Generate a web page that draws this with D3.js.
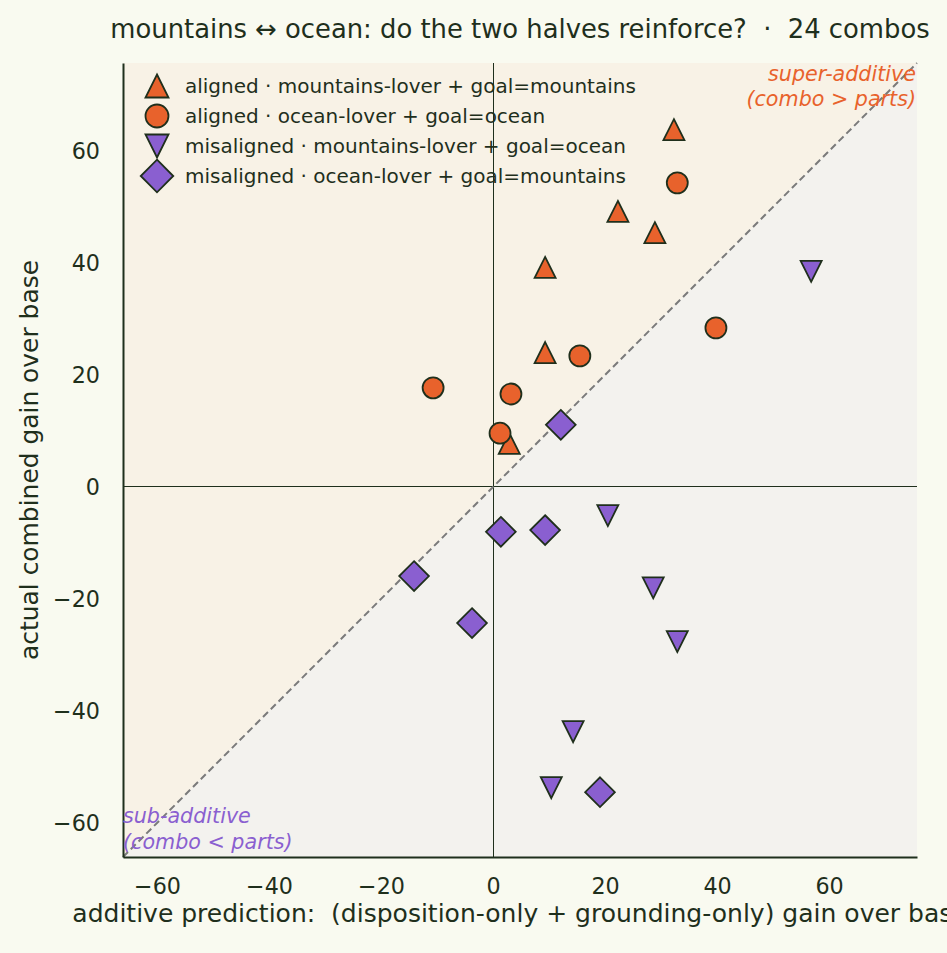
<!DOCTYPE html>
<html>
<head>
<meta charset="utf-8">
<script src="https://cdn.jsdelivr.net/npm/d3@7"></script>
<style>
  body { margin: 0; background: #f9faf0; overflow: hidden; }
  text { font-family: "DejaVu Sans", sans-serif; white-space: pre; }
</style>
</head>
<body>
<svg width="947" height="953"></svg>
<script>
// data: [additive prediction, actual combined gain]
const alignedMountains = [[32.3, 63.8], [22.3, 49.2], [28.9, 45.4], [9.3, 39.2], [9.3, 24.0], [2.9, 7.8]];
const alignedOcean = [[32.9, 54.3], [39.8, 28.4], [15.5, 23.4], [-10.7, 17.7], [3.2, 16.6], [1.25, 9.6]];
const misalignedMountains = [[56.8, 38.5], [20.5, -5.1], [28.6, -18.0], [32.9, -27.6], [14.3, -43.7], [10.4, -53.7]];
const misalignedOcean = [[12.1, 11.1], [1.4, -8.0], [9.3, -7.7], [-14.1, -15.9], [-3.75, -24.3], [19.1, -54.5]];
const seriesNames = [
  "aligned · mountains-lover + goal=mountains",
  "aligned · ocean-lover + goal=ocean",
  "misaligned · mountains-lover + goal=ocean",
  "misaligned · ocean-lover + goal=mountains"
];
const tickValues = [-60, -40, -20, 0, 20, 40, 60];
const domain = [-66.07, 75.7];

const svg = d3.select('svg');
const margin = { top: 63, right: 30, bottom: 96, left: 123 };
const innerWidth = 794, innerHeight = 794;
const ink = "#1f2f1c";
const orange = "#e8622c", purple = "#8a5fd0";

// scale a text so its rendered width matches the width measured on the reference
function fit(sel, target) {
  sel.attr("font-size", 10);
  const w = sel.node().getComputedTextLength();
  const fs = 10 * target / w;
  sel.attr("font-size", fs);
  return fs;
}

// marker paths, matplotlib-like sizing (ms = marker size in px)
function marker(kind, ms) {
  const h = ms / 2;
  if (kind === "up") return "M0," + (-h) + "L" + h + "," + h + "L" + (-h) + "," + h + "Z";
  if (kind === "down") return "M0," + h + "L" + h + "," + (-h) + "L" + (-h) + "," + (-h) + "Z";
  if (kind === "circle") return d3.symbol().type(d3.symbolCircle).size(Math.PI * h * h)();
  const d = ms / Math.SQRT2;
  return "M0," + (-d) + "L" + d + ",0L0," + d + "L" + (-d) + ",0Z";
}

const mainGroup = svg.append("g").attr("transform", "translate(" + margin.left + "," + margin.top + ")");

let xscale = d3.scaleLinear().domain(domain).range([0, innerWidth]),
    yscale = d3.scaleLinear().domain(domain).range([innerHeight, 0]);

// shaded halves
mainGroup.append("path")
  .attr("d", "M" + xscale(domain[0]) + "," + yscale(domain[0]) + "L" + xscale(domain[1]) + "," + yscale(domain[1]) +
    "L" + xscale(domain[0]) + "," + yscale(domain[1]) + "Z")
  .attr("fill", "#f8f2e6");
mainGroup.append("path")
  .attr("d", "M" + xscale(domain[0]) + "," + yscale(domain[0]) + "L" + xscale(domain[1]) + "," + yscale(domain[1]) +
    "L" + xscale(domain[1]) + "," + yscale(domain[0]) + "Z")
  .attr("fill", "#f3f2ee");

// zero lines
mainGroup.append("line").attr("x1", xscale(0)).attr("x2", xscale(0)).attr("y1", 0).attr("y2", innerHeight)
  .attr("stroke", ink).attr("stroke-width", 1).attr("shape-rendering", "crispEdges");
mainGroup.append("line").attr("x1", 0).attr("x2", innerWidth).attr("y1", yscale(0)).attr("y2", yscale(0))
  .attr("stroke", ink).attr("stroke-width", 1).attr("shape-rendering", "crispEdges");

// diagonal y = x
mainGroup.append("line")
  .attr("x1", xscale(domain[0])).attr("y1", yscale(domain[0]))
  .attr("x2", xscale(domain[1])).attr("y2", yscale(domain[1]))
  .attr("stroke", "#7a7a7a").attr("stroke-width", 2).attr("stroke-dasharray", "7,4");

// axes
const minus = d => d < 0 ? "\u2212" + Math.abs(d) : d;
const xaxis = d3.axisBottom(xscale).tickValues(tickValues).tickSize(0).tickPadding(21).tickFormat(minus);
const yaxis = d3.axisLeft(yscale).tickValues(tickValues).tickSize(0).tickPadding(23).tickFormat(minus);
const gx = mainGroup.append("g").attr("transform", "translate(0," + innerHeight + ")").call(xaxis);
const gy = mainGroup.append("g").call(yaxis);
const tickFs = fit(gx.select(".tick text"), 47);
[gx, gy].forEach(g => {
  g.attr("font-family", null).attr("font-size", null);
  g.select(".domain").attr("stroke", ink).attr("stroke-width", 2);
  g.selectAll("text").attr("fill", ink).attr("font-size", tickFs);
});

// annotations
const annFs = fit(svg.append("text").attr("x", 916).attr("y", 81).attr("text-anchor", "end")
  .attr("font-style", "italic").attr("fill", orange).text("super-additive"), 148);
svg.append("text").attr("x", 916).attr("y", 106).attr("text-anchor", "end").attr("font-size", annFs)
  .attr("font-style", "italic").attr("fill", orange).text("(combo > parts)");
svg.append("text").attr("x", 123).attr("y", 823).attr("font-size", annFs)
  .attr("font-style", "italic").attr("fill", purple).text("sub-additive");
svg.append("text").attr("x", 123).attr("y", 849).attr("font-size", annFs)
  .attr("font-style", "italic").attr("fill", purple).text("(combo < parts)");

// markers
const series = [
  { data: alignedMountains, kind: "up", color: orange },
  { data: alignedOcean, kind: "circle", color: orange },
  { data: misalignedMountains, kind: "down", color: purple },
  { data: misalignedOcean, kind: "diamond", color: purple }
];
series.forEach(s => {
  mainGroup.selectAll(null).data(s.data).enter().append("path")
    .attr("d", marker(s.kind, 21))
    .attr("transform", d => "translate(" + xscale(d[0]) + "," + yscale(d[1]) + ")")
    .attr("fill", s.color).attr("stroke", ink).attr("stroke-width", 1.8);
});

// legend
const legend = svg.append("g");
let legFs = null;
series.forEach((s, i) => {
  const y = 86 + i * 30;
  legend.append("path")
    .attr("d", marker(s.kind, 23))
    .attr("transform", "translate(157," + y + ")")
    .attr("fill", s.color).attr("stroke", ink).attr("stroke-width", 1.8);
  const t = legend.append("text").attr("x", 185).attr("y", y).attr("dy", "0.36em")
    .attr("fill", ink).text(seriesNames[i]);
  if (i === 0) legFs = fit(t, 451); else t.attr("font-size", legFs);
});

// titles
fit(svg.append("text").attr("x", 520).attr("y", 38).attr("text-anchor", "middle")
  .attr("fill", ink)
  .text("mountains \u2194 ocean: do the two halves reinforce?  \u00b7  24 combos"), 820);
fit(svg.append("text").attr("transform", "translate(38,460) rotate(-90)").attr("text-anchor", "middle")
  .attr("fill", ink).text("actual combined gain over base"), 400);
fit(svg.append("text").attr("x", 520).attr("y", 922).attr("text-anchor", "middle")
  .attr("fill", ink)
  .text("additive prediction:  (disposition-only + grounding-only) gain over base"), 896);
</script>
</body>
</html>
